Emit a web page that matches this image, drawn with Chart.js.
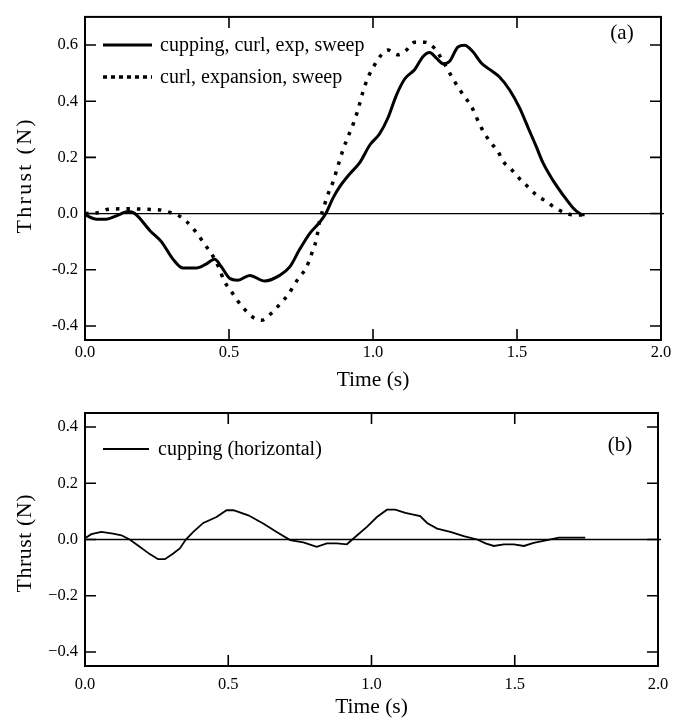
<!DOCTYPE html>
<html>
<head>
<meta charset="utf-8">
<script src="https://cdn.jsdelivr.net/npm/chart.js@4.4.0/dist/chart.umd.min.js"></script>
<style>
  html, body { margin: 0; padding: 0; background: #fff; }
  #page { position: relative; width: 684px; height: 724px; }
  .panel { position: absolute; left: 0; width: 684px; }
  #panelA { top: 0; height: 395px; }
  #panelB { top: 395px; height: 329px; }
</style>
</head>
<body>
<div id="page">
  <div class="panel" id="panelA"><canvas id="chart-a" width="684" height="395"></canvas></div>
  <div class="panel" id="panelB"><canvas id="chart-b" width="684" height="329"></canvas></div>
</div>
<script>
const serif = "'Liberation Serif', 'Times New Roman', serif";

const xTicks = [0, 0.5, 1.0, 1.5, 2.0];
const xTickLabels = ["0.0", "0.5", "1.0", "1.5", "2.0"];
const yTicksA = [-0.4, -0.2, 0, 0.2, 0.4, 0.6];
const yTickLabelsA = ["-0.4", "-0.2", "0.0", "0.2", "0.4", "0.6"];
const yTicksB = [-0.4, -0.2, 0, 0.2, 0.4];
const yTickLabelsB = ["\u22120.4", "\u22120.2", "0.0", "0.2", "0.4"];

// panel (a), solid: cupping, curl, exp, sweep
const cuppingTime = [0, 0.04, 0.074, 0.109, 0.15, 0.173, 0.225, 0.265, 0.306, 0.34, 0.387, 0.42, 0.45, 0.474, 0.502, 0.531, 0.572, 0.624, 0.676, 0.711, 0.745, 0.78, 0.815, 0.836, 0.861, 0.884, 0.919, 0.954, 0.989, 1.023, 1.052, 1.081, 1.11, 1.145, 1.174, 1.197, 1.22, 1.245, 1.266, 1.295, 1.318, 1.347, 1.376, 1.405, 1.44, 1.475, 1.509, 1.538, 1.567, 1.59, 1.625, 1.66, 1.694, 1.718, 1.735];
const cuppingThrust = [-0.005, -0.02, -0.02, -0.008, 0.007, 0, -0.06, -0.10, -0.163, -0.194, -0.194, -0.18, -0.163, -0.19, -0.23, -0.237, -0.22, -0.24, -0.22, -0.19, -0.128, -0.071, -0.031, 0, 0.055, 0.095, 0.141, 0.181, 0.244, 0.284, 0.341, 0.421, 0.479, 0.513, 0.559, 0.573, 0.553, 0.533, 0.542, 0.593, 0.599, 0.576, 0.536, 0.513, 0.485, 0.439, 0.376, 0.307, 0.238, 0.181, 0.118, 0.066, 0.021, 0, -0.005];

// panel (a), dotted: curl, expansion, sweep
const curlTime = [0, 0.045, 0.08, 0.15, 0.219, 0.253, 0.288, 0.323, 0.352, 0.381, 0.421, 0.444, 0.462, 0.485, 0.508, 0.526, 0.549, 0.583, 0.612, 0.647, 0.676, 0.705, 0.74, 0.769, 0.792, 0.803, 0.815, 0.832, 0.846, 0.861, 0.878, 0.896, 0.913, 0.931, 0.948, 0.965, 0.983, 1.006, 1.029, 1.052, 1.087, 1.116, 1.145, 1.18, 1.214, 1.243, 1.272, 1.295, 1.318, 1.342, 1.37, 1.388, 1.411, 1.434, 1.451, 1.48, 1.509, 1.538, 1.567, 1.602, 1.631, 1.666, 1.7, 1.729];
const curlThrust = [0, 0.003, 0.015, 0.017, 0.015, 0.014, 0.006, -0.006, -0.028, -0.06, -0.117, -0.151, -0.186, -0.243, -0.277, -0.305, -0.335, -0.369, -0.38, -0.355, -0.323, -0.289, -0.232, -0.191, -0.128, -0.094, -0.025, 0.032, 0.075, 0.112, 0.169, 0.227, 0.273, 0.318, 0.37, 0.433, 0.485, 0.53, 0.565, 0.582, 0.565, 0.582, 0.61, 0.61, 0.588, 0.542, 0.49, 0.45, 0.416, 0.381, 0.318, 0.284, 0.25, 0.221, 0.187, 0.158, 0.124, 0.095, 0.066, 0.043, 0.021, 0.003, -0.005, -0.005];

// panel (b): cupping (horizontal)
const horizTime = [0, 0.022, 0.057, 0.098, 0.127, 0.156, 0.191, 0.226, 0.255, 0.279, 0.308, 0.331, 0.352, 0.378, 0.413, 0.459, 0.494, 0.518, 0.57, 0.622, 0.669, 0.716, 0.762, 0.809, 0.844, 0.879, 0.914, 0.943, 0.984, 1.019, 1.054, 1.083, 1.118, 1.17, 1.194, 1.229, 1.275, 1.322, 1.369, 1.398, 1.427, 1.462, 1.497, 1.532, 1.566, 1.613, 1.654, 1.746];
const horizThrust = [0.004, 0.019, 0.027, 0.021, 0.015, 0, -0.026, -0.052, -0.07, -0.07, -0.05, -0.032, 0, 0.027, 0.059, 0.08, 0.104, 0.104, 0.086, 0.057, 0.027, -0.002, -0.01, -0.026, -0.014, -0.014, -0.017, 0.009, 0.045, 0.08, 0.106, 0.106, 0.095, 0.083, 0.059, 0.039, 0.027, 0.012, 0, -0.014, -0.023, -0.017, -0.017, -0.023, -0.012, -0.002, 0.007, 0.007];

function toPoints(xs, ys) {
    return xs.map(function(x, i) { return {x: x, y: ys[i]}; });
}

// zero line, boxed frame, inward ticks, y title, legend and panel tag
const panelDecor = {
    id: "panelDecor",
    beforeDatasetsDraw(chart) {
        const ctx = chart.ctx;
        const a = chart.chartArea;
        const y0 = chart.scales.y.getPixelForValue(0);
        ctx.save();
        ctx.strokeStyle = "#000";
        ctx.lineWidth = 1.3;
        ctx.beginPath();
        ctx.moveTo(a.left, y0);
        ctx.lineTo(a.right + 3, y0);
        ctx.stroke();
        ctx.restore();
    },
    afterDraw(chart, args, opts) {
        const ctx = chart.ctx;
        const a = chart.chartArea;
        const xs = chart.scales.x;
        const ys = chart.scales.y;
        ctx.save();
        ctx.strokeStyle = "#000";
        ctx.lineWidth = 2;
        ctx.strokeRect(a.left, a.top, a.right - a.left, a.bottom - a.top);
        ctx.lineWidth = 1.6;
        ctx.beginPath();
        xs.ticks.forEach(function(t) {
            const px = xs.getPixelForValue(t.value);
            ctx.moveTo(px, a.bottom); ctx.lineTo(px, a.bottom - 11);
            ctx.moveTo(px, a.top); ctx.lineTo(px, a.top + 11);
        });
        ys.ticks.forEach(function(t) {
            const py = ys.getPixelForValue(t.value);
            ctx.moveTo(a.left, py); ctx.lineTo(a.left + 11, py);
            ctx.moveTo(a.right, py); ctx.lineTo(a.right - 11, py);
        });
        ctx.stroke();

        // y axis title, a little letter-spaced like the original
        ctx.save();
        ctx.fillStyle = "#000";
        ctx.font = opts.yTitleFont + "px " + serif;
        ctx.letterSpacing = opts.yTitleSpacing + "px";
        ctx.textAlign = "center";
        ctx.textBaseline = "middle";
        ctx.translate(25, (a.top + a.bottom) / 2 + opts.yTitleShift);
        ctx.rotate(-Math.PI / 2);
        ctx.fillText("Thrust (N)", opts.yTitleSpacing / 2, 0);
        ctx.restore();

        // legend
        ctx.fillStyle = "#000";
        ctx.font = opts.legendFont + "px " + serif;
        ctx.textBaseline = "middle";
        ctx.textAlign = "left";
        chart.data.datasets.forEach(function(ds, i) {
            const ly = opts.legendY + i * opts.rowGap;
            ctx.lineWidth = ds.borderWidth;
            ctx.lineCap = "butt";
            ctx.setLineDash(opts.legendDash[i]);
            ctx.beginPath();
            ctx.moveTo(opts.sampleX, ly);
            ctx.lineTo(opts.sampleX + opts.sampleLen, ly);
            ctx.stroke();
            ctx.setLineDash([]);
            ctx.fillText(ds.label, opts.textX, ly + 1);
        });

        ctx.font = "21px " + serif;
        ctx.textAlign = "center";
        ctx.fillText(opts.tag, opts.tagX, opts.tagY);
        ctx.restore();
    }
};

function makeScales(yTicks, yLabels, yMin, yMax, xHeight, xPad, xTitlePad) {
    return {
        x: {
            type: "linear",
            min: 0,
            max: 2,
            afterBuildTicks: function(s) { s.ticks = xTicks.map(function(v) { return {value: v}; }); },
            afterFit: function(s) { s.height = xHeight; },
            grid: {display: false, drawTicks: false},
            border: {display: false},
            ticks: {
                autoSkip: false,
                maxRotation: 0,
                padding: xPad,
                color: "#000",
                font: {family: serif, size: 16.5},
                callback: function(v, i) { return xTickLabels[i]; }
            },
            title: {
                display: true,
                text: "Time (s)",
                color: "#000",
                font: {family: serif, size: 21.5},
                padding: {top: 0, bottom: xTitlePad}
            }
        },
        y: {
            type: "linear",
            min: yMin,
            max: yMax,
            afterBuildTicks: function(s) { s.ticks = yTicks.map(function(v) { return {value: v}; }); },
            afterFit: function(s) { s.width = 85; },
            grid: {display: false, drawTicks: false},
            border: {display: false},
            ticks: {
                padding: 7,
                color: "#000",
                font: {family: serif, size: 16.5},
                callback: function(v, i) { return yLabels[i]; }
            }
        }
    };
}

const chartA = new Chart(document.getElementById("chart-a").getContext("2d"), {
    type: "line",
    data: {
        datasets: [{
            label: "cupping, curl, exp, sweep",
            data: toPoints(cuppingTime, cuppingThrust),
            borderColor: "#000",
            borderWidth: 3,
            pointRadius: 0,
            cubicInterpolationMode: "monotone",
            borderJoinStyle: "round"
        }, {
            label: "curl, expansion, sweep",
            data: toPoints(curlTime, curlThrust),
            borderColor: "#000",
            borderWidth: 3.5,
            borderDash: [3.5, 7],
            pointRadius: 0,
            cubicInterpolationMode: "monotone"
        }]
    },
    options: {
        responsive: false,
        animation: false,
        events: [],
        layout: {padding: {top: 7, right: 23, left: 0, bottom: 0}},
        scales: makeScales(yTicksA, yTickLabelsA, -0.45, 0.7, 55, 3, 2),
        plugins: {
            legend: {display: false},
            tooltip: {enabled: false},
            panelDecor: {
                yTitleFont: 22, yTitleSpacing: 2.3, yTitleShift: -2,
                legendFont: 20, legendY: 45, rowGap: 32, sampleX: 103, sampleLen: 49, textX: 160,
                legendDash: [[], [4, 4]], tag: "(a)", tagX: 622, tagY: 33
            }
        }
    },
    plugins: [panelDecor]
});

const chartB = new Chart(document.getElementById("chart-b").getContext("2d"), {
    type: "line",
    data: {
        datasets: [{
            label: "cupping (horizontal)",
            data: toPoints(horizTime, horizThrust),
            borderColor: "#000",
            borderWidth: 1.8,
            pointRadius: 0,
            tension: 0
        }]
    },
    options: {
        responsive: false,
        animation: false,
        events: [],
        layout: {padding: {top: 18, right: 26, left: 0, bottom: 0}},
        scales: makeScales(yTicksB, yTickLabelsB, -0.45, 0.45, 58, 9, 4),
        plugins: {
            legend: {display: false},
            tooltip: {enabled: false},
            panelDecor: {
                yTitleFont: 22, yTitleSpacing: 0.5, yTitleShift: 4,
                legendFont: 20, legendY: 54, rowGap: 32, sampleX: 103, sampleLen: 46, textX: 158,
                legendDash: [[]], tag: "(b)", tagX: 620, tagY: 50
            }
        }
    },
    plugins: [panelDecor]
});
</script>
</body>
</html>
